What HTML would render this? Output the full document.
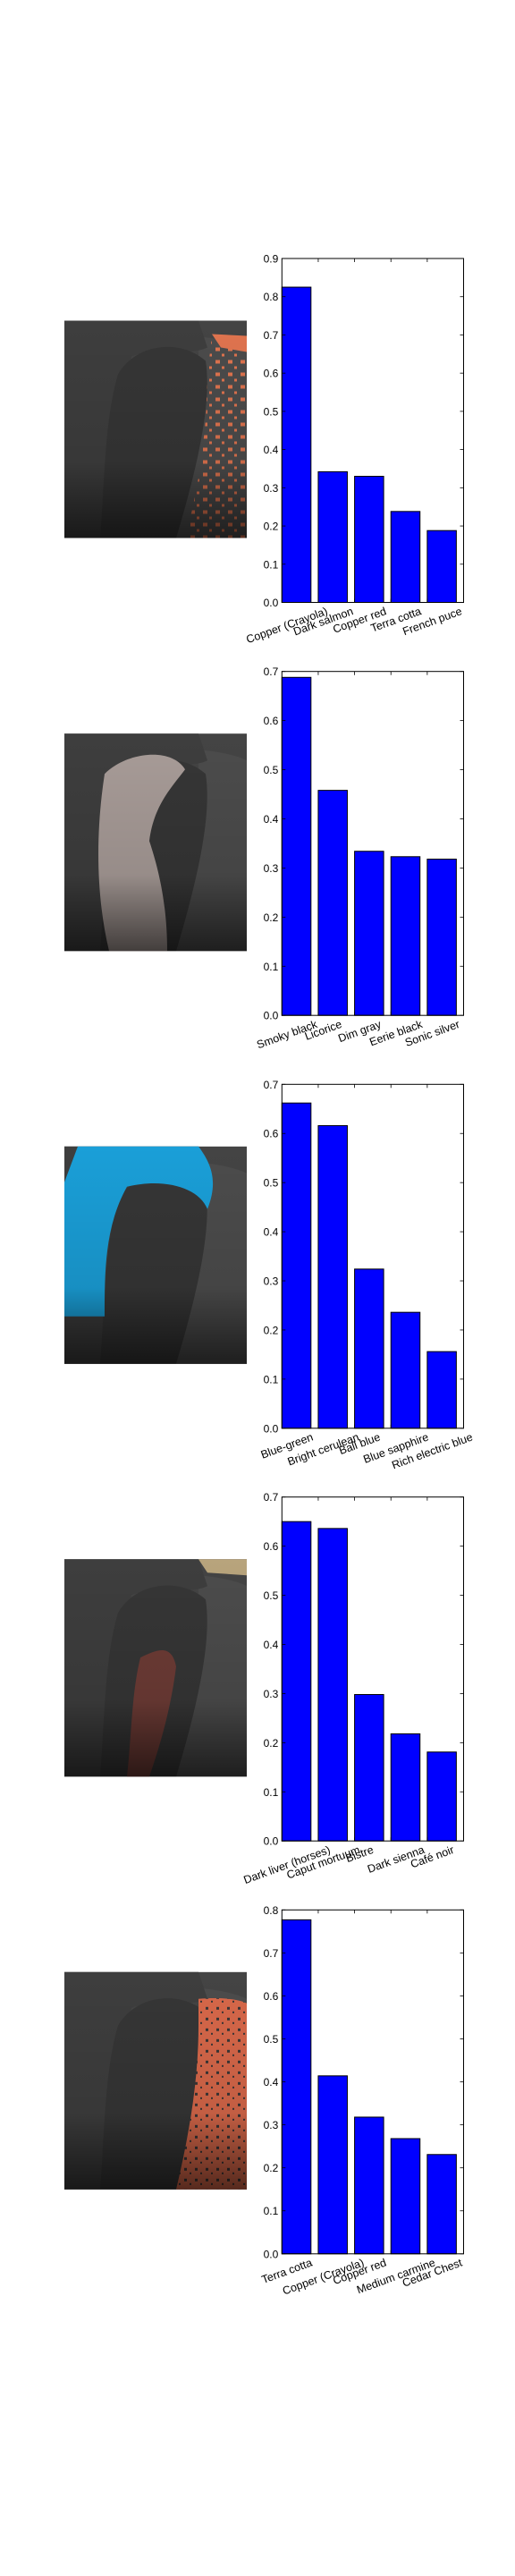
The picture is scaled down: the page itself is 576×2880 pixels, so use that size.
<!DOCTYPE html>
<html><head><meta charset="utf-8">
<style>
html,body{margin:0;padding:0;background:#fff;}
svg{display:block;font-family:"Liberation Sans","DejaVu Sans",sans-serif;}
</style></head>
<body>
<svg id="fig" width="576" height="2880" viewBox="0 0 576 2880" xmlns="http://www.w3.org/2000/svg">
<defs>
<linearGradient id="shade" x1="0" y1="0" x2="0" y2="1">
<stop offset="0" stop-color="#000" stop-opacity="0"/>
<stop offset="0.65" stop-color="#000" stop-opacity="0.1"/>
<stop offset="1" stop-color="#000" stop-opacity="0.6"/>
</linearGradient>
<pattern id="speckOrange" width="14" height="14" patternUnits="userSpaceOnUse">
<rect width="14" height="14" fill="none"/>
<rect x="1" y="2" width="5" height="4" fill="#e0744f"/>
<rect x="8" y="9" width="3" height="3" fill="#e0744f"/>
</pattern>
<pattern id="speckDark" width="12" height="12" patternUnits="userSpaceOnUse">
<rect width="12" height="12" fill="#d8684a"/>
<rect x="2" y="3" width="3" height="3" fill="#3a3636"/>
<rect x="8" y="8" width="2" height="2" fill="#3a3636"/>
</pattern>
</defs>
</svg>
<script>
// ---- chart data (one array per panel) ----
const cats1 = ["Copper (Crayola)", "Dark salmon", "Copper red", "Terra cotta", "French puce"];
const vals1 = [0.825, 0.342, 0.330, 0.238, 0.188];
const ticks1 = ["0.0","0.1","0.2","0.3","0.4","0.5","0.6","0.7","0.8","0.9"];
const cats2 = ["Smoky black", "Licorice", "Dim gray", "Eerie black", "Sonic silver"];
const vals2 = [0.688, 0.458, 0.334, 0.323, 0.318];
const ticks2 = ["0.0","0.1","0.2","0.3","0.4","0.5","0.6","0.7"];
const cats3 = ["Blue-green", "Bright cerulean", "Ball blue", "Blue sapphire", "Rich electric blue"];
const vals3 = [0.662, 0.616, 0.324, 0.236, 0.156];
const ticks3 = ["0.0","0.1","0.2","0.3","0.4","0.5","0.6","0.7"];
const cats4 = ["Dark liver (horses)", "Caput mortuum", "Bistre", "Dark sienna", "Café noir"];
const vals4 = [0.650, 0.636, 0.298, 0.218, 0.181];
const ticks4 = ["0.0","0.1","0.2","0.3","0.4","0.5","0.6","0.7"];
const cats5 = ["Terra cotta", "Copper (Crayola)", "Copper red", "Medium carmine", "Cedar Chest"];
const vals5 = [0.777, 0.414, 0.318, 0.268, 0.231];
const ticks5 = ["0.0","0.1","0.2","0.3","0.4","0.5","0.6","0.7","0.8"];

const NS = "http://www.w3.org/2000/svg";
const svg = document.getElementById("fig");
function mk(tag, attrs, parent) {
  const e = document.createElementNS(NS, tag);
  for (const k in attrs) e.setAttribute(k, attrs[k]);
  (parent || svg).appendChild(e);
  return e;
}

const panels = [
  {cats: cats1, vals: vals1, ticks: ticks1, top: 289, overlay: "orange"},
  {cats: cats2, vals: vals2, ticks: ticks2, top: 750.7, overlay: "pale"},
  {cats: cats3, vals: vals3, ticks: ticks3, top: 1212.3, overlay: "blue"},
  {cats: cats4, vals: vals4, ticks: ticks4, top: 1673.7, overlay: "brown"},
  {cats: cats5, vals: vals5, ticks: ticks5, top: 2135.3, overlay: "terra"}
];
const AX_L = 315.3, AX_R = 518.5, AX_H = 384.5;

function drawPhoto(p, idx) {
  const g = mk("g", {transform: "translate(72," + (p.top + 69.5) + ")"});
  
  
  mk("rect", {x: 0, y: 0, width: 204, height: 243, fill: "#444"}, g);
  mk("path", {d: "M150,18 C175,20 195,25 204,30 L204,243 L125,243 C135,180 150,120 150,60 Z", fill: "#4c4c4c"}, g);
  mk("path", {d: "M0,0 L150,0 L160,30 C140,40 100,30 75,40 L40,243 L0,243 Z", fill: "#3e3e3e"}, g);
  mk("path", {d: "M60,60 C80,25 130,20 158,45 C165,90 150,160 125,243 L40,243 C45,180 45,110 60,60 Z", fill: "#363636"}, g);
  const ov = p.overlay;
  if (ov === "orange") {
    mk("path", {d: "M165,18 L204,20 L204,243 L135,243 C150,190 160,120 160,60 Z", fill: "url(#speckOrange)"}, g);
    mk("path", {d: "M165,15 L204,17 L204,35 L175,30 Z", fill: "#e0744f"}, g);
  } else if (ov === "pale") {
    mk("path", {d: "M45,45 C70,20 120,15 135,40 C120,60 100,80 95,120 C105,150 115,190 115,243 L50,243 C35,180 35,110 45,45 Z", fill: "#a89c98"}, g);
  } else if (ov === "blue") {
    mk("path", {d: "M15,0 L150,0 C165,20 172,40 160,70 C150,45 110,35 70,45 C45,90 45,140 45,190 L0,190 L0,40 Z", fill: "#1a9fd8"}, g);
  } else if (ov === "brown") {
    mk("path", {d: "M85,110 C105,100 120,95 125,120 C120,160 110,200 95,243 L70,243 C75,200 75,150 85,110 Z", fill: "#6e3c36"}, g);
    mk("path", {d: "M150,0 L204,0 L204,18 L160,15 Z", fill: "#b8a47c"}, g);
  } else if (ov === "terra") {
    mk("path", {d: "M150,30 C175,28 195,30 204,35 L204,243 L125,243 C140,180 150,120 150,60 Z", fill: "url(#speckDark)"}, g);
  }
  mk("rect", {x: 0, y: 0, width: 204, height: 243, fill: "url(#shade)"}, g);
}

function drawChart(p, idx) {
  const ymax = parseFloat(p.ticks[p.ticks.length - 1]);
  const bottom = p.top + AX_H;
  const unit = (AX_R - AX_L) / 5;
  const xs = v => AX_L + v * unit;
  const ys = v => bottom - (v / ymax) * AX_H;
  const g = mk("g", {});
  
  
  mk("rect", {x: AX_L, y: p.top, width: AX_R - AX_L, height: AX_H, fill: "#fff"}, g);
  p.vals.forEach((v, i) => {
    const r = mk("rect", {x: xs(i), y: ys(v), width: unit * 0.8, height: bottom - ys(v), fill: "#0000ff", stroke: "#000", "stroke-width": 1}, g);
    
    
  });
  p.ticks.forEach(t => {
    const y = ys(parseFloat(t));
    mk("line", {x1: AX_L, x2: AX_L + 4, y1: y, y2: y, stroke: "#000", "stroke-width": 0.8}, g);
    mk("line", {x1: AX_R, x2: AX_R - 4, y1: y, y2: y, stroke: "#000", "stroke-width": 0.8}, g);
    const tx = mk("text", {x: AX_L - 4, y: y + 4.5, "text-anchor": "end", "font-size": 12, fill: "#000"}, g);
    tx.textContent = t;
    
    
  });
  for (let k = 1; k < 5; k++) {
    mk("line", {x1: xs(k), x2: xs(k), y1: p.top, y2: p.top + 4, stroke: "#000", "stroke-width": 0.8}, g);
    mk("line", {x1: xs(k), x2: xs(k), y1: bottom, y2: bottom - 4, stroke: "#000", "stroke-width": 0.8}, g);
  }
  mk("rect", {x: AX_L, y: p.top, width: AX_R - AX_L, height: AX_H, fill: "none", stroke: "#000", "stroke-width": 1}, g);
  p.cats.forEach((c, i) => {
    const cx = xs(i) + 7;
    const t = mk("text", {x: 0, y: 0, "text-anchor": "middle", "font-size": 12.5, fill: "#000"}, g);
    t.textContent = c;
    
    
    let w = c.length * 6.6;
    try { w = t.getComputedTextLength() || w; } catch (e) {}
    const cy = bottom + 3 + (w * 0.342 + 13 * 0.94) / 2;
    t.setAttribute("transform", "translate(" + cx + "," + (cy + 4) + ") rotate(-20)");
  });
}

panels.forEach((p, i) => { drawPhoto(p, i); drawChart(p, i); });
</script>
</body></html>
